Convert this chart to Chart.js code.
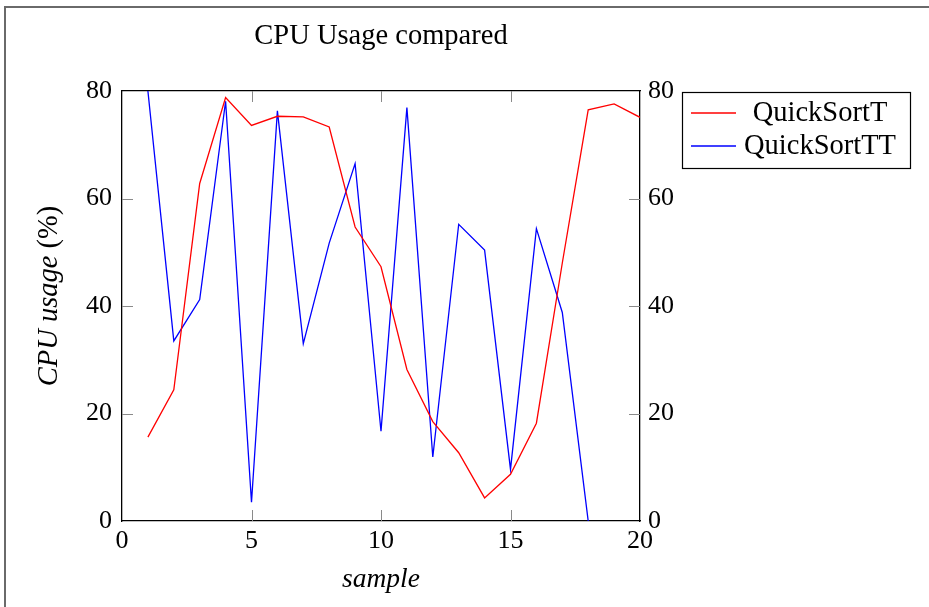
<!DOCTYPE html>
<html>
<head>
<meta charset="utf-8">
<script src="https://cdn.jsdelivr.net/npm/chart.js@4.4.1/dist/chart.umd.min.js"></script>
<style>
  html, body { margin: 0; padding: 0; background: #fff; }
  #c { display: block; }
</style>
</head>
<body>
<canvas id="c" width="929" height="607"></canvas>
<script>
// Sample index and CPU usage (%) for the two sorting variants
const samples = [1, 2, 3, 4, 5, 6, 7, 8, 9, 10, 11, 12, 13, 14, 15, 16, 17, 18, 19, 20];
const quickSortT = [15.6, 24.4, 62.8, 78.8, 73.6, 75.3, 75.2, 73.3, 54.7, 47.3,
                    28.2, 18.5, 12.7, 4.3, 8.7, 18.2, 48.0, 76.5, 77.6, 75.1];
const quickSortTT = [80.0, 33.5, 41.2, 78.1, 3.5, 76.3, 33.0, 51.7, 66.5, 16.7,
                     76.9, 11.9, 55.2, 50.4, 9.6, 54.4, 38.8, 0.0, null, null];
const xTicks = [0, 5, 10, 15, 20];
const yTicks = [0, 20, 40, 60, 80];
const seriesNames = ['QuickSortT', 'QuickSortTT'];
const chartTitle = 'CPU Usage compared';

const FONT = '"Liberation Serif", "Times New Roman", serif';

const toPoints = (vals) => samples.map((s, i) => ({ x: s, y: vals[i] }));

// outer frame and white background
const framePlugin = {
  id: 'frame',
  beforeDraw(chart) {
    const { ctx, width, height } = chart;
    ctx.save();
    ctx.fillStyle = '#fff';
    ctx.fillRect(0, 0, width, height);
    ctx.strokeStyle = '#6a6a6a';
    ctx.lineWidth = 2;
    ctx.strokeRect(5, 7, width + 20, height + 20);
    ctx.restore();
  }
};

// title centred over the plot area
const plotTitle = {
  id: 'plotTitle',
  afterDraw(chart) {
    const { ctx, chartArea: a } = chart;
    ctx.save();
    ctx.font = '28.5px ' + FONT;
    ctx.fillStyle = '#000';
    ctx.textAlign = 'center';
    ctx.textBaseline = 'middle';
    ctx.fillText(chartTitle, (a.left + a.right) / 2, 37);
    ctx.restore();
  }
};

// short tick marks pointing into the plot on all four sides
const innerTicks = {
  id: 'innerTicks',
  beforeDatasetsDraw(chart) {
    const { ctx, chartArea: a, scales } = chart;
    const L = 11;
    ctx.save();
    ctx.strokeStyle = '#8a8a8a';
    ctx.lineWidth = 1;
    ctx.beginPath();
    xTicks.forEach(v => {
      if (v === scales.x.min || v === scales.x.max) return;
      const px = Math.round(scales.x.getPixelForValue(v)) + 0.5;
      ctx.moveTo(px, a.bottom); ctx.lineTo(px, a.bottom - L);
      ctx.moveTo(px, a.top); ctx.lineTo(px, a.top + L);
    });
    yTicks.forEach(v => {
      if (v === scales.y.min || v === scales.y.max) return;
      const py = Math.round(scales.y.getPixelForValue(v)) + 0.5;
      ctx.moveTo(a.left, py); ctx.lineTo(a.left + L, py);
      ctx.moveTo(a.right, py); ctx.lineTo(a.right - L, py);
    });
    ctx.stroke();
    ctx.restore();
  }
};

// y axis label: italic quantity, upright unit
const yLabel = {
  id: 'yLabel',
  afterDraw(chart) {
    const { ctx, chartArea: a } = chart;
    const cy = (a.top + a.bottom) / 2 - 10;
    const cx = 50;
    const italic = 'italic 28.5px ' + FONT;
    const upright = '28.5px ' + FONT;
    const p1 = 'CPU usage', p2 = ' (%)';
    ctx.save();
    ctx.font = italic; const w1 = ctx.measureText(p1).width;
    ctx.font = upright; const w2 = ctx.measureText(p2).width;
    ctx.translate(cx, cy);
    ctx.rotate(-Math.PI / 2);
    ctx.fillStyle = '#000';
    ctx.textBaseline = 'middle';
    ctx.textAlign = 'left';
    const start = -(w1 + w2) / 2;
    ctx.font = italic; ctx.fillText(p1, start, 0);
    ctx.font = upright; ctx.fillText(p2, start + w1, 0);
    ctx.restore();
  }
};

// boxed legend to the right of the plot
const boxLegend = {
  id: 'boxLegend',
  afterDraw(chart) {
    const { ctx, chartArea: a } = chart;
    const bx = a.right + 42, by = a.top + 1, bw = 228, bh = 76;
    ctx.save();
    ctx.strokeStyle = '#000';
    ctx.lineWidth = 1.2;
    ctx.strokeRect(bx + 0.5, by + 0.5, bw, bh);
    ctx.font = '28.5px ' + FONT;
    ctx.textBaseline = 'middle';
    ctx.textAlign = 'center';
    chart.data.datasets.forEach((ds, i) => {
      const y = by + 21 + i * 33;
      ctx.strokeStyle = ds.borderColor;
      ctx.lineWidth = 1.3;
      ctx.beginPath();
      ctx.moveTo(bx + 9, y); ctx.lineTo(bx + 54, y);
      ctx.stroke();
      ctx.fillStyle = '#000';
      ctx.fillText(ds.label, bx + 138, y + 1);
    });
    ctx.restore();
  }
};

const tickFont = { family: FONT, size: 26 };
const noGrid = { display: true, drawOnChartArea: false, drawTicks: false };
const frameBorder = { display: true, color: '#000', width: 1.3 };

new Chart(document.getElementById('c'), {
  type: 'line',
  data: {
    datasets: [
      { label: seriesNames[0], data: toPoints(quickSortT), borderColor: '#ff0000',
        borderWidth: 1.3, pointRadius: 0, fill: false, tension: 0 },
      { label: seriesNames[1], data: toPoints(quickSortTT), borderColor: '#0000ff',
        borderWidth: 1.3, pointRadius: 0, fill: false, tension: 0, spanGaps: false }
    ]
  },
  options: {
    responsive: false,
    animation: false,
    devicePixelRatio: 1,
    layout: { padding: 0 },
    plugins: {
      legend: { display: false },
      tooltip: { enabled: false },
      title: { display: false }
    },
    scales: {
      x: {
        type: 'linear', position: 'bottom', min: 0, max: 20,
        afterBuildTicks: s => { s.ticks = xTicks.map(v => ({ value: v })); },
        ticks: { font: tickFont, color: '#000', padding: 5, maxRotation: 0, autoSkip: false },
        grid: noGrid, border: frameBorder,
        title: { display: true, text: 'sample', color: '#000',
                 font: { family: FONT, size: 27.5, style: 'italic' }, padding: { top: 0, bottom: 11 } },
        afterFit: s => { s.height = 86; }
      },
      x2: {
        type: 'linear', position: 'top', min: 0, max: 20,
        afterBuildTicks: s => { s.ticks = xTicks.map(v => ({ value: v })); },
        ticks: { display: false },
        grid: noGrid, border: frameBorder,
        afterFit: s => { s.height = 91; }
      },
      y: {
        type: 'linear', position: 'left', min: 0, max: 80,
        afterBuildTicks: s => { s.ticks = yTicks.map(v => ({ value: v })); },
        ticks: { font: tickFont, color: '#000', padding: 10 },
        grid: noGrid, border: frameBorder,
        afterFit: s => { s.width = 122; }
      },
      y2: {
        type: 'linear', position: 'right', min: 0, max: 80,
        afterBuildTicks: s => { s.ticks = yTicks.map(v => ({ value: v })); },
        ticks: { font: tickFont, color: '#000', padding: 8 },
        grid: noGrid, border: frameBorder,
        afterFit: s => { s.width = 289; }
      }
    }
  },
  plugins: [framePlugin, plotTitle, innerTicks, yLabel, boxLegend]
});
</script>
</body>
</html>
